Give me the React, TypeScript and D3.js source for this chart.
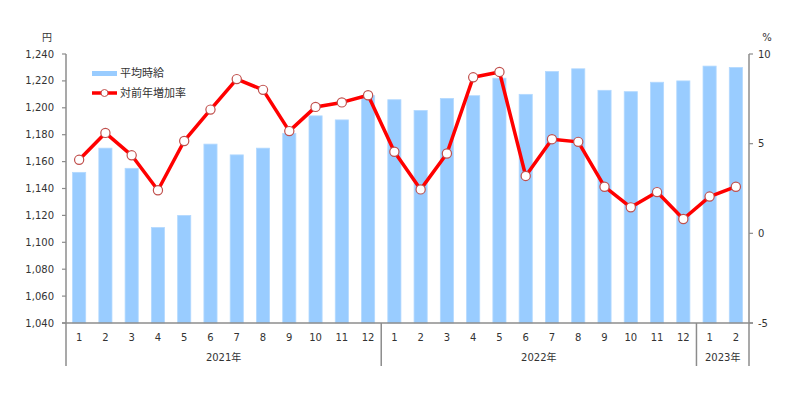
import React from "react";
import * as d3 from "d3";

const months = ["1","2","3","4","5","6","7","8","9","10","11","12","1","2","3","4","5","6","7","8","9","10","11","12","1","2"];
const years = [
  { label: "2021年", count: 12 },
  { label: "2022年", count: 12 },
  { label: "2023年", count: 2 },
];
const wages = [1152,1170,1155,1111,1120,1173,1165,1170,1181,1194,1191,1209,1206,1198,1207,1209,1222,1210,1227,1229,1213,1212,1219,1220,1231,1230];
const growth = [4.1,5.6,4.35,2.4,5.15,6.9,8.6,8.0,5.7,7.05,7.3,7.7,4.55,2.45,4.45,8.7,9.0,3.2,5.25,5.1,2.6,1.45,2.3,0.8,2.05,2.6];
const leftTicks = [1040,1060,1080,1100,1120,1140,1160,1180,1200,1220,1240];
const rightTicks = [-5,0,5,10];
const legendLabels = ["平均時給", "対前年増加率"];

const W = 799, H = 398;
const M = { left: 66, right: 749, top: 54, bottom: 323 };
const FONT = "'DejaVu Sans', 'Noto Sans CJK JP', sans-serif";
const AXIS = "#8c8c8c";
const TXT = "#333";

export default function App() {
  const idx = months.map((_, i) => i);
  const x = d3.scaleBand<number>().domain(idx).range([M.left, M.right]).paddingInner(0.5).paddingOuter(0.25);
  const xc = (i: number) => (x(i) as number) + x.bandwidth() / 2;
  const yL = d3.scaleLinear().domain([1040, 1240]).range([M.bottom, M.top]);
  const yR = d3.scaleLinear().domain([-5, 10]).range([M.bottom, M.top]);
  const step = x.step();
  const line = d3.line<number>().x((_, i) => xc(i)).y((d) => yR(d));

  const seps: number[] = [M.left];
  let acc = 0;
  years.forEach((y) => { acc += y.count; seps.push(M.left + acc * step); });

  let start = 0;
  const yearPos = years.map((y) => {
    const a = M.left + start * step;
    start += y.count;
    const b = M.left + start * step;
    return { label: y.label, cx: (a + b) / 2 };
  });

  return (
    <svg width={W} height={H} style={{ position: "absolute", left: 0, top: 0, background: "#fff" }} fontFamily={FONT}>
      <rect width={W} height={H} fill="#fff" />
      {wages.map((v, i) => (
        <rect key={i} x={x(i)} y={yL(v)} width={x.bandwidth()} height={yL(1040) - yL(v)} fill="#99CCFF" stroke="#B3D9FF" strokeWidth={0.8} />
      ))}
      <line x1={M.left} x2={M.left} y1={M.top} y2={M.bottom} stroke={AXIS} strokeWidth={1.5} />
      {leftTicks.map((t) => (
        <g key={t}>
          <line x1={M.left - 4} x2={M.left} y1={yL(t)} y2={yL(t)} stroke={AXIS} strokeWidth={1.2} />
          <text x={54} y={yL(t)} dy="0.35em" textAnchor="end" fontSize={10} fill={TXT}>{d3.format(",")(t)}</text>
        </g>
      ))}
      <text x={47} y={37} dy="0.35em" textAnchor="middle" fontSize={10} fill={TXT}>円</text>
      <line x1={M.right} x2={M.right} y1={M.top} y2={M.bottom} stroke={AXIS} strokeWidth={1.5} />
      {rightTicks.map((t) => (
        <g key={t}>
          <line x1={M.right} x2={M.right + 4} y1={yR(t)} y2={yR(t)} stroke={AXIS} strokeWidth={1.2} />
          <text x={758} y={yR(t)} dy="0.35em" textAnchor="start" fontSize={10} fill={TXT}>{t}</text>
        </g>
      ))}
      <text x={767} y={37} dy="0.35em" textAnchor="middle" fontSize={10} fill={TXT}>%</text>
      <line x1={M.left - 4} x2={M.right + 4} y1={M.bottom} y2={M.bottom} stroke={AXIS} strokeWidth={1.5} />
      {seps.map((s, i) => (
        <line key={i} x1={s} x2={s} y1={M.bottom} y2={366} stroke={AXIS} strokeWidth={1.5} />
      ))}
      {months.map((m, i) => (
        <text key={i} x={xc(i)} y={337} dy="0.35em" textAnchor="middle" fontSize={10} fill={TXT}>{m}</text>
      ))}
      {yearPos.map((y) => (
        <text key={y.label} x={y.cx} y={357} dy="0.35em" textAnchor="middle" fontSize={10} fill={TXT}>{y.label}</text>
      ))}
      <path d={line(growth) || ""} fill="none" stroke="#FF0000" strokeWidth={3.5} strokeLinejoin="round" />
      {growth.map((v, i) => (
        <circle key={i} cx={xc(i)} cy={yR(v)} r={4.6} fill="#fff" stroke="#C0504D" strokeWidth={1.2} />
      ))}
      <rect x={92} y={71} width={25} height={5} fill="#99CCFF" />
      <text x={120} y={73.5} dy="0.35em" fontSize={11} fill={TXT}>{legendLabels[0]}</text>
      <line x1={92} x2={117} y1={93} y2={93} stroke="#FF0000" strokeWidth={3.5} />
      <circle cx={104.5} cy={93} r={3.5} fill="#fff" stroke="#C0504D" strokeWidth={1} />
      <text x={120} y={93.5} dy="0.35em" fontSize={11} fill={TXT}>{legendLabels[1]}</text>
    </svg>
  );
}
